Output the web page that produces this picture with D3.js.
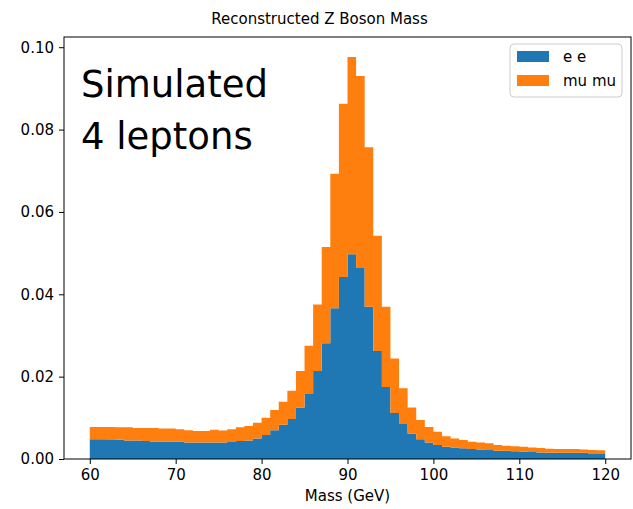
<!DOCTYPE html>
<html>
<head>
<meta charset="utf-8">
<script src="https://cdn.jsdelivr.net/npm/d3@7"></script>
<style>
  html, body { margin: 0; padding: 0; background: #fff; }
  svg { display: block; }
  text { font-family: "DejaVu Sans", sans-serif; fill: #000; }
</style>
</head>
<body>
<svg id="chart" width="633" height="509"></svg>
<script>
// Bin edges of the invariant-mass histogram (GeV), 1 GeV wide bins
const binEdges = [60, 61, 62, 63, 64, 65, 66, 67, 68, 69, 70, 71, 72, 73, 74, 75, 76, 77, 78, 79,
  80, 81, 82, 83, 84, 85, 86, 87, 88, 89, 90, 91, 92, 93, 94, 95, 96, 97, 98, 99,
  100, 101, 102, 103, 104, 105, 106, 107, 108, 109, 110, 111, 112, 113, 114, 115, 116, 117, 118, 119, 120];

// Normalised density per bin, electron pairs
const eeDensity = [0.0048, 0.0048, 0.0046, 0.0047, 0.0045, 0.0045, 0.0044, 0.0042, 0.0042, 0.0042,
  0.0042, 0.0040, 0.0040, 0.0040, 0.0040, 0.0040, 0.0041, 0.0044, 0.0045, 0.0050,
  0.0058, 0.0070, 0.0083, 0.0097, 0.0125, 0.0158, 0.0214, 0.0281, 0.0366, 0.0442,
  0.0497, 0.0464, 0.0370, 0.0262, 0.0175, 0.0112, 0.0085, 0.0062, 0.0048, 0.0040,
  0.0034, 0.0030, 0.0028, 0.0026, 0.0024, 0.0023, 0.0022, 0.0020, 0.0020, 0.0019,
  0.0018, 0.0017, 0.0016, 0.0015, 0.0015, 0.0015, 0.0015, 0.0015, 0.0012, 0.0012];

// Normalised density per bin, muon pairs (stacked on top of e e)
const mumuDensity = [0.0030, 0.0030, 0.0032, 0.0030, 0.0032, 0.0030, 0.0031, 0.0033, 0.0032, 0.0032,
  0.0030, 0.0030, 0.0028, 0.0028, 0.0031, 0.0029, 0.0031, 0.0033, 0.0035, 0.0038,
  0.0042, 0.0049, 0.0056, 0.0069, 0.0089, 0.0117, 0.0161, 0.0234, 0.0327, 0.0421,
  0.0479, 0.0466, 0.0387, 0.0280, 0.0195, 0.0132, 0.0087, 0.0063, 0.0047, 0.0038,
  0.0032, 0.0025, 0.0022, 0.0020, 0.0018, 0.0017, 0.0016, 0.0014, 0.0012, 0.0012,
  0.0012, 0.0011, 0.0011, 0.0010, 0.0009, 0.0009, 0.0009, 0.0008, 0.0010, 0.0009];

const seriesNames = ["e e", "mu mu"];
const seriesColors = ["#1f77b4", "#ff7f0e"];
const xTicks = [60, 70, 80, 90, 100, 110, 120];
const yTicks = [0.00, 0.02, 0.04, 0.06, 0.08, 0.10];

const W = 633, H = 509;
const svg = d3.select("#chart");
const plot = { left: 64, right: 631, top: 37, bottom: 459 };

// Data-space limits with 5% padding on x, top padding on y
const xMin = binEdges[0], xMax = binEdges[binEdges.length - 1];
const xPad = (xMax - xMin) * 0.05;
const totals = eeDensity.map((v, i) => v + mumuDensity[i]);
const yMax = d3.max(totals) * 1.05;

const x = d3.scaleLinear().domain([xMin - xPad, xMax + xPad]).range([plot.left, plot.right]);
const y = d3.scaleLinear().domain([0, yMax]).range([plot.bottom, plot.top]);

// One record per bin edge; the last edge repeats the final bin so the step closes
const rows = binEdges.map((edge, i) => {
  const j = Math.min(i, eeDensity.length - 1);
  return { edge, ee: eeDensity[j], mumu: mumuDensity[j] };
});
const stack = d3.stack().keys(["ee", "mumu"])(rows);

const area = d3.area()
  .curve(d3.curveStepAfter)
  .x(d => x(d.data.edge))
  .y0(d => y(d[0]))
  .y1(d => y(d[1]));

svg.append("g")
  .selectAll("path")
  .data(stack)
  .join("path")
  .attr("fill", (d, i) => seriesColors[i])
  .attr("d", area);

// Axes
const xAxis = d3.axisBottom(x).tickValues(xTicks).tickFormat(d3.format("d")).tickSize(5).tickPadding(5);
const yAxis = d3.axisLeft(y).tickValues(yTicks).tickFormat(d3.format(".2f")).tickSize(5).tickPadding(5);

const gx = svg.append("g").attr("transform", `translate(0,${plot.bottom})`).call(xAxis);
const gy = svg.append("g").attr("transform", `translate(${plot.left},0)`).call(yAxis);
[gx, gy].forEach(g => {
  g.select(".domain").remove();
  g.selectAll(".tick line").attr("stroke", "#000").attr("stroke-width", 1);
  g.selectAll(".tick text").attr("font-family", "DejaVu Sans").attr("font-size", 15).attr("fill", "#222");
});

// Frame
svg.append("rect")
  .attr("x", plot.left).attr("y", plot.top)
  .attr("width", plot.right - plot.left).attr("height", plot.bottom - plot.top)
  .attr("fill", "none").attr("stroke", "#000").attr("stroke-width", 1);

// Figure title and axis label
svg.append("text")
  .attr("x", W / 2 + 3).attr("y", 24)
  .attr("text-anchor", "middle").attr("font-size", 15).attr("fill", "#222")
  .text("Reconstructed Z Boson Mass");

svg.append("text")
  .attr("x", (plot.left + plot.right) / 2).attr("y", 501)
  .attr("text-anchor", "middle").attr("font-size", 15).attr("fill", "#222")
  .text("Mass (GeV)");

// Annotation
const note = svg.append("text")
  .attr("font-family", "Lato, 'Open Sans', sans-serif")
  .attr("font-size", 37).attr("fill", "#000");
note.append("tspan").attr("x", 81).attr("y", 97).text("Simulated");
note.append("tspan").attr("x", 81).attr("y", 149).text("4 leptons");

// Legend
const legend = svg.append("g").attr("transform", "translate(510,44)");
legend.append("rect")
  .attr("width", 112).attr("height", 53).attr("rx", 4)
  .attr("fill", "#fff").attr("fill-opacity", 0.8)
  .attr("stroke", "#cccccc").attr("stroke-width", 1);
seriesNames.forEach((name, i) => {
  const row = legend.append("g").attr("transform", `translate(7,${7 + i * 24})`);
  row.append("rect").attr("width", 32).attr("height", 11).attr("fill", seriesColors[i]);
  row.append("text").attr("x", 46).attr("y", 11).attr("font-size", 15).attr("fill", "#222").text(name);
});
</script>
</body>
</html>
